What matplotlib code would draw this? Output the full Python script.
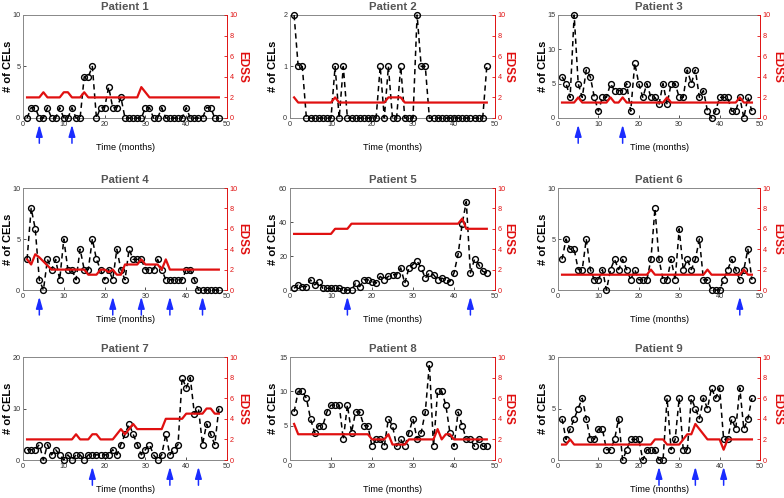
import matplotlib
matplotlib.use("Agg")
import matplotlib.pyplot as plt
import numpy as np

plt.rcParams['font.family'] = ['Liberation Sans', 'DejaVu Sans']

months = list(range(1, 49))

cels_1 = [0,1,1,0,0,1,0,0,1,0,0,1,0,0,4,4,5,0,1,1,3,1,1,2,0,0,0,0,0,1,1,0,0,1,0,0,0,0,0,1,0,0,0,0,1,1,0,0]
edss_1 = [2,2,2,2,2.5,2,2,2,2,2.5,2.5,2,2,2,2.5,2,2,2,2,2,2,2,2,2,2,2,2,2,3,2.5,2,2,2,2,2,2,2,2,2,2,2,2,2,2,2,2,2,2]
arrows_1 = [4, 12]

cels_2 = [2,1,1,0,0,0,0,0,0,0,1,0,1,0,0,0,0,0,0,0,0,1,0,1,0,0,1,0,0,0,2,1,1,0,0,0,0,0,0,0,0,0,0,0,0,0,0,1]
edss_2 = [2,1.5,1.5,1.5,1.5,1.5,1.5,1.5,1.5,1.5,2,1.5,1.5,1.5,1.5,1.5,1.5,1.5,1.5,1.5,1.5,1.5,1.5,2,2,2,2,1.5,1.5,1.5,1.5,1.5,1.5,1.5,1.5,1.5,1.5,1.5,1.5,1.5,1.5,1.5,1.5,1.5,1.5,1.5,1.5,1.5]
arrows_2 = []

cels_3 = [6,5,3,15,5,3,7,6,3,1,3,3,5,4,4,4,5,1,8,5,3,5,3,3,2,5,2,5,5,3,3,7,5,7,3,4,1,0,1,3,3,3,1,1,3,0,3,1]
edss_3 = [1.5,1.5,1.5,1.5,2,1.5,1.5,1.5,1.5,1.5,1.5,1.5,2,1.5,1.5,2,1.5,1.5,1.5,1.5,1.5,1.5,1.5,1.5,1.5,1.5,2,1.5,1.5,1.5,1.5,1.5,1.5,1.5,1.5,1.5,1.5,1.5,1.5,1.5,1.5,1.5,1.5,1.5,2,1.5,1.5,1.5]
arrows_3 = [5, 16]

cels_4 = [3,8,6,1,0,3,2,3,1,5,2,2,1,4,2,2,5,3,2,1,2,1,4,2,1,4,3,3,3,2,2,2,3,2,1,1,1,1,1,2,2,1,0,0,0,0,0,0]
edss_4 = [3,2.5,3.5,3.2,2.8,2.4,2,2,2,2,2,2,2,2,2,1.5,1.5,1.5,2,2,1.75,2,1.5,1.5,2.5,2.5,2.5,2.5,3,2.5,2.5,2.5,2.5,2,3,2,2,2,2,2,2,2,2,2,2,2,2,2]
arrows_4 = [4, 22, 29, 36, 44]

cels_5 = [1,3,2,2,6,3,5,1,1,1,1,1,0,0,0,4,2,6,6,5,4,8,6,8,9,9,13,4,13,15,17,13,7,10,9,6,7,6,5,10,21,39,52,10,18,15,11,10]
edss_5 = [5.5,5.5,5.5,5.5,5.5,5.5,5.5,5.5,5.5,5.5,6,6,6,6,6.5,6.5,6.5,6.5,6.5,6.5,6.5,6.5,6.5,6.5,6.5,6.5,6.5,6.5,6.5,6.5,6.5,6.5,6.5,6.5,6.5,6.5,6.5,6.5,6.5,6.5,6.5,7,6,6,6,6,6,6]
arrows_5 = [14, 44]

cels_6 = [3,5,4,4,2,2,5,2,1,1,2,0,2,3,2,3,2,1,2,1,1,1,3,8,3,1,1,3,1,6,2,3,2,3,5,1,1,0,0,0,1,2,3,2,1,2,4,1]
edss_6 = [1.5,1.5,1.5,1.5,1.5,1.5,1.5,1.5,1.5,1.5,1.5,1.5,1.5,1.5,1.5,1.5,1.5,1.5,1.5,1.5,1.5,1.5,2,1.5,1.5,1.5,1.5,1.5,1.5,1.5,1.5,1.5,1.5,1.5,1.5,1.5,2,1.5,1.5,1.5,1.5,1.5,1.5,1.5,1.5,2,1.5,1.5]
arrows_6 = [45]

cels_7 = [2,2,2,3,0,3,1,2,1,0,1,0,1,1,0,1,1,1,1,1,1,2,1,3,5,7,5,3,1,2,3,1,0,1,5,1,2,3,16,14,16,9,10,3,7,5,3,10]
edss_7 = [2,2,2,2,2,2,2,2,2,2,2,2,2.5,2,2,2,2.5,2.5,2,2,2,2,2.5,3,2.5,3,3.5,3,3,3,3,3,3,3,4,4,4,4,4,4.5,4.5,4.5,4.5,4.5,5,5,4.5,4.5]
arrows_7 = [17, 36, 43]

cels_8 = [7,10,10,9,6,4,5,5,7,8,8,8,3,8,4,7,7,5,5,2,3,3,2,6,5,2,3,2,4,6,3,4,7,14,2,10,10,8,4,2,7,5,3,3,2,3,2,2]
edss_8 = [3.5,2.5,2.5,2.5,2.5,2.5,2.5,2.5,2.5,2.5,2.5,2.5,2.5,2.5,2.5,2.5,2.5,2.5,2.5,2,2,2,2,2.5,1.5,1.5,1.5,1.5,2,2,2,2,2,2,2,3,2,2.5,2.5,2,2,2,2,2,2,2,2,2]
arrows_8 = []

cels_9 = [4,2,3,4,5,6,4,2,2,3,3,1,1,2,4,0,1,2,2,2,0,1,1,1,0,0,6,1,2,6,1,1,6,5,4,6,5,7,6,7,2,2,4,3,7,3,4,6]
edss_9 = [1.5,1.5,2,1.5,1.5,1.5,1.5,1.5,1.5,1.5,1.5,1.5,1.5,1.5,1.5,1.5,1.5,1.5,1.5,1.5,1.5,1.5,1.5,2,2,2,1.5,1.5,1.5,1.5,2,2.5,2.5,3.5,3,2.5,2,2,2,2,1,2,2,2,2,2,2,2]
arrows_9 = [25, 34, 41]

titles = ["Patient 1", "Patient 2", "Patient 3", "Patient 4", "Patient 5",
          "Patient 6", "Patient 7", "Patient 8", "Patient 9"]
cels = [cels_1, cels_2, cels_3, cels_4, cels_5, cels_6, cels_7, cels_8, cels_9]
edss = [edss_1, edss_2, edss_3, edss_4, edss_5, edss_6, edss_7, edss_8, edss_9]
arrows = [arrows_1, arrows_2, arrows_3, arrows_4, arrows_5, arrows_6, arrows_7, arrows_8, arrows_9]
cel_ylims = [10, 2, 15, 10, 60, 10, 20, 15, 10]
cel_ticks = [[0, 5, 10], [0, 1, 2], [0, 5, 10, 15], [0, 5, 10], [0, 20, 40, 60],
             [0, 5, 10], [0, 10, 20], [0, 5, 10, 15], [0, 5, 10]]

W, H = 784, 498
fig = plt.figure(figsize=(W / 100, H / 100), dpi=100)

col_left = [23, 290, 558]
col_width = [204, 205, 202]
row_top = [15, 188, 357]
row_bot = [118, 290, 460]
ylabel_x = [-0.075, -0.085, -0.076]
edss_x = [1.074, 1.067, 1.084]

RED = '#e01010'
BLUE = '#1a2cff'
GRAY = '#888888'

for i in range(9):
    r, c = divmod(i, 3)
    ax = fig.add_axes([col_left[c] / W, (H - row_bot[r]) / H,
                       col_width[c] / W, (row_bot[r] - row_top[r]) / H])
    ax.plot(months, cels[i], linestyle=(0, (3.5, 2.5)), color='black', lw=1.1,
            marker='o', markersize=4.2, markerfacecolor='none',
            markeredgecolor='black', markeredgewidth=1.0, clip_on=False, zorder=3)
    ax.set_xlim(0, 50)
    ax.set_ylim(0, cel_ylims[i])
    ax.set_xticks([0, 10, 20, 30, 40, 50])
    ax.set_yticks(cel_ticks[i])
    ax.tick_params(direction='in', length=2.5, width=0.6, labelsize=5.2,
                   colors='#333333', pad=2)
    ax.tick_params(axis='x', top=False)
    for s in ['left', 'bottom', 'top']:
        ax.spines[s].set_color(GRAY)
        ax.spines[s].set_linewidth(0.7)
    ax.spines['right'].set_visible(False)

    ax2 = ax.twinx()
    ax2.plot(months, edss[i], color=RED, lw=1.6, zorder=4)
    ax2.set_ylim(0, 10)
    ax2.set_yticks([0, 2, 4, 6, 8, 10])
    ax2.tick_params(direction='in', length=2.5, width=0.6, labelsize=5.2,
                    colors=RED, pad=2)
    ax2.spines['right'].set_color(RED)
    ax2.spines['right'].set_linewidth(0.7)
    for s in ['left', 'bottom', 'top']:
        ax2.spines[s].set_visible(False)

    ax.text(0.5, 1.075, titles[i], transform=ax.transAxes, ha='center', va='center',
            fontsize=8.2, fontweight='bold', color='#555555')
    ax.text(ylabel_x[c], 0.5, '# of CELs', transform=ax.transAxes, ha='center',
            va='center', rotation=90, fontsize=8.0, fontweight='bold', color='black')
    ax.text(edss_x[c], 0.5, 'EDSS', transform=ax.transAxes, ha='center',
            va='center', rotation=270, fontsize=8.5, fontweight='bold', color=RED)
    ax.text(0.5, -0.29, 'Time (months)', transform=ax.transAxes, ha='center',
            va='center', fontsize=6.6, color='black')

    for a in arrows[i]:
        ax.annotate('', xy=(a, -0.065), xytext=(a, -0.245),
                    xycoords=('data', 'axes fraction'),
                    textcoords=('data', 'axes fraction'),
                    arrowprops=dict(arrowstyle='-|>,head_length=0.7,head_width=0.2',
                                    color=BLUE, lw=1.1, mutation_scale=10,
                                    shrinkA=0, shrinkB=0),
                    annotation_clip=False)

fig.savefig('out.png', dpi=100, facecolor='white')
